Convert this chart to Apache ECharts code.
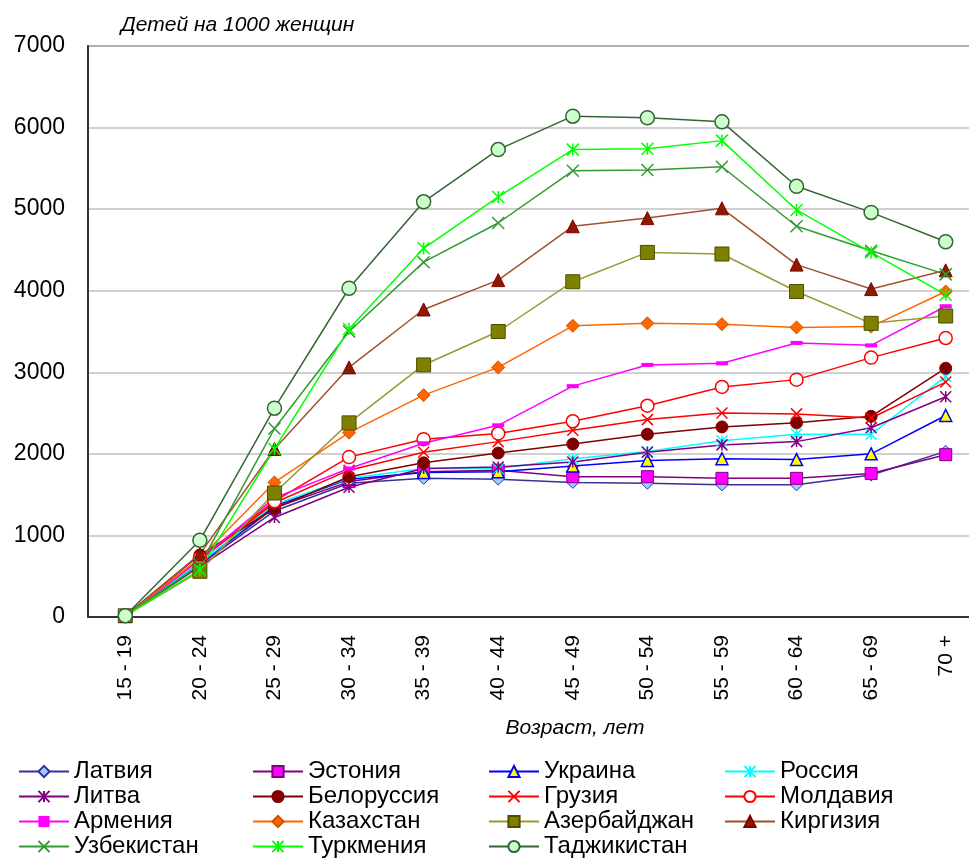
<!DOCTYPE html>
<html>
<head>
<meta charset="utf-8">
<script src="https://cdn.jsdelivr.net/npm/echarts@6/dist/echarts.min.js"></script>
<style>
html,body{margin:0;padding:0;background:#fff;}
#chart{width:969px;height:859px;}
</style>
</head>
<body>
<div id="chart"></div>
<script>
const categories = ['15 - 19','20 - 24','25 - 29','30 - 34','35 - 39','40 - 44','45 - 49','50 - 54','55 - 59','60 - 64','65 - 69','70 +'];
const yTicks = [0,1000,2000,3000,4000,5000,6000,7000];

const latvia      = [15, 640, 1300, 1640, 1700, 1690, 1650, 1640, 1620, 1620, 1740, 2030];
const estonia     = [15, 650, 1340, 1660, 1780, 1800, 1720, 1720, 1700, 1700, 1760, 1990];
const ukraine     = [15, 660, 1360, 1690, 1770, 1780, 1850, 1920, 1940, 1930, 2000, 2470];
const russia      = [15, 660, 1380, 1700, 1820, 1820, 1940, 2030, 2160, 2240, 2240, 2950];
const lithuania   = [15, 620, 1220, 1590, 1820, 1840, 1900, 2020, 2110, 2150, 2320, 2700];
const belarus     = [15, 760, 1330, 1720, 1890, 2010, 2120, 2240, 2330, 2380, 2460, 3050];
const georgia     = [15, 700, 1400, 1800, 2020, 2150, 2290, 2420, 2500, 2490, 2440, 2880];
const moldova     = [15, 720, 1420, 1960, 2180, 2250, 2400, 2590, 2820, 2910, 3180, 3420];
const armenia     = [15, 700, 1460, 1820, 2130, 2350, 2830, 3090, 3110, 3360, 3330, 3810];
const kazakhstan  = [15, 720, 1650, 2260, 2720, 3060, 3570, 3600, 3590, 3550, 3560, 3990];
const azerbaijan  = [15, 560, 1520, 2380, 3090, 3500, 4110, 4470, 4450, 3990, 3600, 3690];
const kyrgyzstan  = [15, 770, 2060, 3060, 3770, 4130, 4790, 4890, 5010, 4320, 4020, 4250];
const uzbekistan  = [15, 640, 2310, 3500, 4350, 4830, 5470, 5480, 5520, 4790, 4490, 4200];
const turkmenia   = [15, 580, 2060, 3530, 4520, 5150, 5730, 5740, 5840, 4990, 4470, 3950];
const tajikistan  = [15, 940, 2560, 4030, 5090, 5730, 6140, 6120, 6070, 5280, 4960, 4600];

const X_PATH = 'path://M0,0L10,10M10,0L0,10';
const STAR_PATH = 'path://M0,0L10,10M10,0L0,10M5,0L5,10';

function mk(name, data, line, symbol, size, fill, border, bw) {
  return {
    name: name, type: 'line', data: data,
    symbol: symbol, symbolSize: size,
    lineStyle: {color: line, width: 1.5},
    itemStyle: {color: fill, borderColor: border, borderWidth: bw},
    emphasis: {disabled: true},
    animation: false
  };
}

const series = [
  mk('Латвия', latvia, '#333399', 'diamond', 12, '#99CCFF', '#333399', 1),
  mk('Эстония', estonia, '#800080', 'rect', 12, '#FF00FF', '#800080', 1),
  mk('Украина', ukraine, '#0000FF', 'triangle', 12, '#FFFF00', '#0000FF', 1.5),
  mk('Россия', russia, '#00FFFF', STAR_PATH, 11, '#00FFFF', '#00FFFF', 1.5),
  mk('Литва', lithuania, '#800080', STAR_PATH, 11, '#800080', '#800080', 1.5),
  mk('Белоруссия', belarus, '#800000', 'circle', 12, '#800000', '#800000', 1),
  mk('Грузия', georgia, '#FF0000', X_PATH, 11, '#FF0000', '#FF0000', 1.5),
  mk('Молдавия', moldova, '#FF0000', 'circle', 13, '#FFFFFF', '#FF0000', 1.5),
  mk('Армения', armenia, '#FF00FF', 'rect', [12, 4], '#FF00FF', '#FF00FF', 0),
  mk('Казахстан', kazakhstan, '#FF6600', 'diamond', 13, '#FF6600', '#CC5500', 1),
  mk('Азербайджан', azerbaijan, '#999933', 'rect', 14, '#808000', '#4D4D00', 1),
  mk('Киргизия', kyrgyzstan, '#A0522D', 'triangle', 13, '#8B1A00', '#800000', 1),
  mk('Узбекистан', uzbekistan, '#339933', X_PATH, 12, '#339933', '#339933', 1.5),
  mk('Туркмения', turkmenia, '#00FF00', STAR_PATH, 12, '#00FF00', '#00FF00', 1.5),
  mk('Таджикистан', tajikistan, '#336633', 'circle', 14, '#CCFFCC', '#336633', 1.5)
];

const FONT = '"Liberation Sans", Arial, sans-serif';
function legendCol(left, names) {
  return {
    orient: 'vertical', left: left, top: 759, padding: 0,
    itemWidth: 50, itemHeight: 14, itemGap: 0,
    selectedMode: false,
    textStyle: {fontFamily: FONT, fontSize: 24, color: '#000', lineHeight: 25},
    data: names
  };
}

const chart = echarts.init(document.getElementById('chart'), null, {renderer: 'canvas'});
chart.setOption({
  backgroundColor: '#fff',
  animation: false,
  title: [
    {text: 'Детей на 1000 женщин', left: 116, top: 10,
     textStyle: {fontFamily: FONT, fontSize: 21, fontStyle: 'italic', fontWeight: 'normal', color: '#000'}},
    {text: 'Возраст, лет', left: 570, top: 713, textAlign: 'center',
     textStyle: {fontFamily: FONT, fontSize: 21, fontStyle: 'italic', fontWeight: 'normal', color: '#000'}}
  ],
  legend: [
    legendCol(18, ['Латвия', 'Литва', 'Армения', 'Узбекистан']),
    legendCol(252, ['Эстония', 'Белоруссия', 'Казахстан', 'Туркмения']),
    legendCol(488, ['Украина', 'Грузия', 'Азербайджан', 'Таджикистан']),
    legendCol(724, ['Россия', 'Молдавия', 'Киргизия'])
  ],
  grid: {left: 88, top: 46, width: 895, height: 571, show: true, borderColor: '#555', borderWidth: 1.5,
         containLabel: false, outerBoundsMode: 'none'},
  xAxis: {
    type: 'category', data: categories, boundaryGap: true,
    axisLine: {show: true, lineStyle: {color: '#333', width: 2}},
    axisTick: {show: false},
    axisLabel: {rotate: 90, margin: 18, fontFamily: FONT, fontSize: 21, color: '#000', interval: 0}
  },
  yAxis: {
    type: 'value', min: yTicks[0], max: yTicks[yTicks.length - 1], interval: 1000,
    axisLine: {show: true, lineStyle: {color: '#333', width: 2}},
    axisTick: {show: false},
    axisLabel: {margin: 23, fontFamily: FONT, fontSize: 23, color: '#000', formatter: function (v) { return String(v); }},
    splitLine: {show: true, lineStyle: {color: '#C0C0C0', width: 1.5}}
  },
  series: series
});
</script>
</body>
</html>
